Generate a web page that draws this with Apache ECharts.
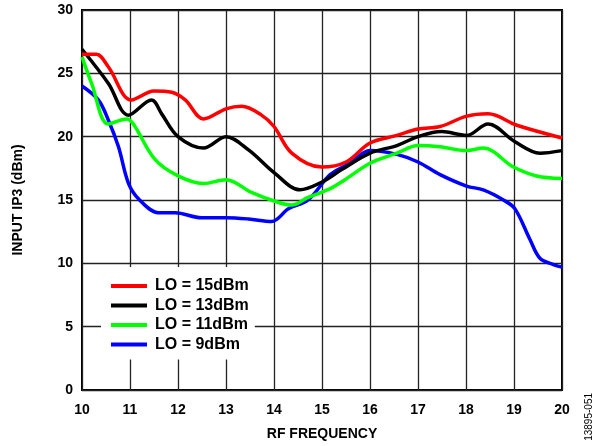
<!DOCTYPE html>
<html><head><meta charset="utf-8">
<script src="https://cdn.jsdelivr.net/npm/echarts@6/dist/echarts.min.js"></script>
<style>html,body{margin:0;padding:0;background:#fff}#c{width:611px;height:446px}</style>
</head><body><div id="c"></div>
<script>
const seriesNames = ['LO = 15dBm', 'LO = 13dBm', 'LO = 11dBm', 'LO = 9dBm'];
const xTicks = [10, 11, 12, 13, 14, 15, 16, 17, 18, 19, 20];
const yTicks = [0, 5, 10, 15, 20, 25, 30];

const lo15 = [[10,26.5],[10.3,26.5],[10.55,25.5],[11.03,22.9],[11.5,23.6],[11.87,23.5],[12.15,22.9],[12.53,21.4],[13.0,22.2],[13.33,22.4],[13.74,21.7],[14.0,20.8],[14.37,18.7],[14.99,17.6],[15.5,18.0],[16.0,19.5],[16.56,20.1],[17.0,20.6],[17.46,20.8],[18.0,21.6],[18.46,21.8],[19.06,20.9],[20,19.9]];
const lo13 = [[10,26.9],[10.55,24.2],[10.97,21.7],[11.45,22.9],[11.66,21.8],[12.0,20.0],[12.53,19.1],[13.0,20.0],[13.47,18.95],[14.02,17.1],[14.54,15.8],[14.99,16.4],[15.41,17.4],[16.0,18.7],[16.56,19.3],[17.0,20.0],[17.49,20.4],[18.01,20.1],[18.46,21.0],[19.02,19.6],[19.54,18.7],[20,18.9]];
const lo11 = [[10,26.3],[10.2,24.2],[10.55,21.0],[10.93,21.4],[11.07,21.0],[11.52,18.2],[12.0,16.9],[12.53,16.3],[13.0,16.6],[13.53,15.6],[14.02,14.9],[14.37,14.6],[14.71,15.2],[15.17,15.9],[15.48,16.6],[16.0,17.9],[16.56,18.7],[17.0,19.3],[17.46,19.2],[18.01,18.9],[18.36,19.1],[18.99,17.6],[19.47,16.9],[20,16.7]];
const lo9 = [[10,24.0],[10.34,22.9],[10.55,21.3],[10.76,19.2],[10.97,16.3],[11.2,15.0],[11.59,14.0],[11.94,14.0],[12.49,13.6],[13.0,13.6],[13.47,13.5],[13.95,13.3],[14.3,14.3],[14.71,15.0],[15.17,17.0],[15.58,17.9],[16.0,18.9],[16.56,18.6],[17.0,18.0],[17.46,17.0],[18.01,16.1],[18.36,15.8],[18.78,15.0],[19.02,14.3],[19.33,11.9],[19.54,10.4],[19.82,9.9],[20,9.7]];

const dataSets = [lo15, lo13, lo11, lo9];
const colors = ['#ff0000', '#000000', '#00ff00', '#0000ff'];
const FONT = '"Liberation Sans", Arial, sans-serif';

const chart = echarts.init(document.getElementById('c'), null, {renderer: 'canvas'});
chart.setOption({
  animation: false,
  grid: {left: 82, top: 10, right: 49, bottom: 54, show: true, borderColor: '#000', borderWidth: 2, backgroundColor: 'transparent'},
  xAxis: {
    type: 'value', min: xTicks[0], max: xTicks[xTicks.length-1], interval: 1,
    name: 'RF FREQUENCY', nameLocation: 'middle', nameGap: 37,
    nameTextStyle: {fontFamily: FONT, fontWeight: 'bold', fontSize: 14, color: '#000'},
    axisLine: {show: false}, axisTick: {show: false},
    axisLabel: {fontFamily: FONT, fontWeight: 'bold', fontSize: 14, color: '#000', margin: 13},
    splitLine: {show: true, lineStyle: {color: '#222', width: 1.3}}
  },
  yAxis: {
    type: 'value', min: yTicks[0], max: yTicks[yTicks.length-1], interval: 5,
    name: 'INPUT IP3 (dBm)', nameLocation: 'middle', nameGap: 57, nameRotate: 90,
    nameTextStyle: {fontFamily: FONT, fontWeight: 'bold', fontSize: 14, color: '#000'},
    axisLine: {show: false}, axisTick: {show: false},
    axisLabel: {fontFamily: FONT, fontWeight: 'bold', fontSize: 14, color: '#000', margin: 9},
    splitLine: {show: true, lineStyle: {color: '#222', width: 1.3}}
  },
  legend: {
    orient: 'vertical', left: 101, top: 267,
    backgroundColor: '#fff', padding: [11, 6, 7, 10], itemGap: 3.5,
    itemWidth: 36, itemHeight: 4, icon: 'rect',
    textStyle: {fontFamily: FONT, fontWeight: 'bold', fontSize: 16, color: '#000', padding: [0, 0, 0, 3]},
    data: seriesNames
  },
  graphic: [{
    type: 'text', left: 584, top: 393, rotation: Math.PI/2,
    style: {text: '13895-051', fontFamily: FONT, fontSize: 10, fill: '#000'}
  }],
  series: dataSets.map((d, i) => ({
    name: seriesNames[i], type: 'line', data: d, smooth: 0.35, symbol: 'none',
    lineStyle: {color: colors[i], width: 3.5}, itemStyle: {color: colors[i]},
    z: 10 - i
  }))
});
</script></body></html>
